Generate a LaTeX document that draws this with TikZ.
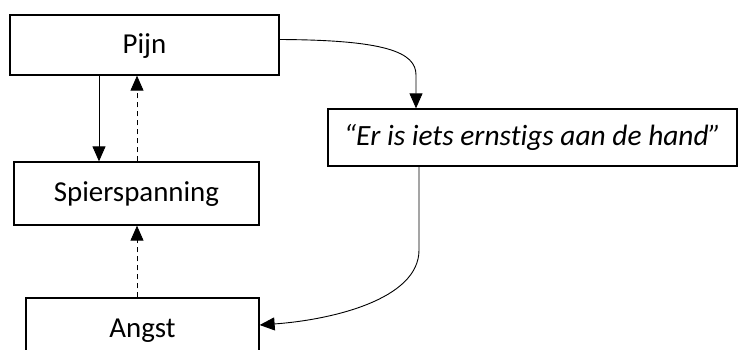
\documentclass[tikz,border=0pt]{standalone}
\usepackage{fontspec}
\setmainfont{Carlito}[Ligatures=CommonOff]
\usetikzlibrary{arrows.meta}
\begin{document}
\begin{tikzpicture}[x=1bp,y=-1bp,
  box/.style={draw,line width=1.3bp,rectangle,inner sep=0pt,text height=22bp,text depth=6bp,font=\fontsize{29}{34}\selectfont},
  link/.style={line width=0.9bp,-{Triangle[width=13bp,length=15bp]}},
  dlink/.style={link,dash pattern=on 5bp off 4bp}]
\useasboundingbox (0,0) rectangle (739,349);
\clip (0,0) rectangle (739,349);
\node[box,minimum width=269bp,minimum height=60bp] (pijn) at (144.5,45) {Pijn};
\node[box,minimum width=245bp,minimum height=63bp] (spier) at (136.5,193.5) {Spierspanning};
\node[box,minimum width=233bp,minimum height=62bp] (angst) at (142.5,329) {Angst};
\node[box,minimum width=409bp,minimum height=57bp,font=\fontsize{29.5}{34}\selectfont\itshape] (er) at (532.5,137.5) {“Er is iets ernstigs aan de hand”};
\coordinate (x1) at (99,0);
\coordinate (x2) at (137,0);
\coordinate (x3) at (416,0);
\coordinate (x4) at (419,0);
\coordinate (c1) at (416,75);
\coordinate (c2) at (419,250);
\draw[link] (pijn.south -| x1) -- (spier.north -| x1);
\draw[dlink] (spier.north -| x2) -- (pijn.south -| x2);
\draw[dlink] (angst.north -| x2) -- (spier.south -| x2);
\draw[link] ([yshift=5.5bp]pijn.east) .. controls (385,40) and (416,52) .. (c1) -- (er.north -| x3);
\draw[link] (er.south -| x4) -- (c2) .. controls (419,300) and (330,320) .. ([yshift=4bp]angst.east);
\end{tikzpicture}
\end{document}
